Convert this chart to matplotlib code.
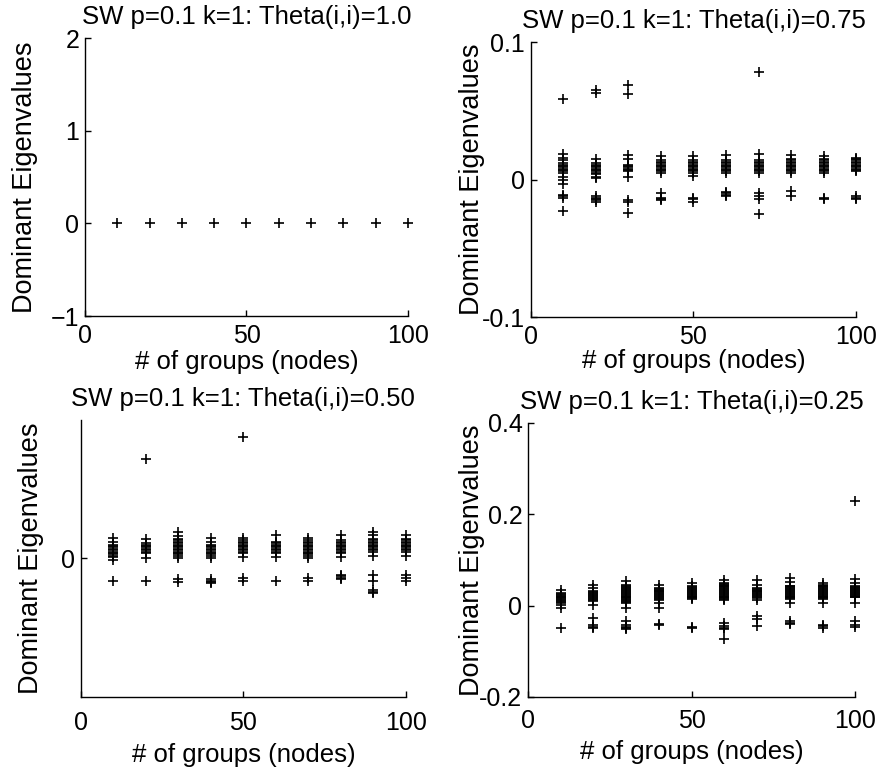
import numpy as np
import matplotlib.pyplot as plt

plt.rcParams['font.family'] = ['Liberation Sans', 'DejaVu Sans']
plt.rcParams['axes.unicode_minus'] = True

groups = [10, 20, 30, 40, 50, 60, 70, 80, 90, 100]

# Theta(i,i)=1.0 : every run gives a single eigenvalue at zero
eig_100 = [[0.0] for _ in groups]

# Theta(i,i)=0.75
eig_075 = [
    [0.059, 0.019, 0.016, 0.014, 0.012, 0.011, 0.010, 0.009, 0.008, 0.007, 0.006, 0.005, 0.002, 0.000, -0.003,
     -0.011, -0.012, -0.013, -0.023],
    [0.063, 0.065, 0.015, 0.012, 0.011, 0.010, 0.009, 0.008, 0.007, 0.006, 0.005, 0.004, 0.002, 0.001,
     -0.012, -0.013, -0.014, -0.015, -0.016],
    [0.062, 0.069, 0.018, 0.015, 0.011, 0.010, 0.009, 0.008, 0.007, 0.006, 0.002,
     -0.015, -0.016, -0.024],
    [0.017, 0.014, 0.013, 0.012, 0.011, 0.010, 0.009, 0.008, 0.007, 0.006, 0.005,
     -0.010, -0.013, -0.014, -0.015],
    [0.017, 0.014, 0.013, 0.012, 0.011, 0.010, 0.009, 0.008, 0.007, 0.006, 0.005, 0.003,
     -0.013, -0.014, -0.016],
    [0.018, 0.014, 0.013, 0.012, 0.011, 0.010, 0.009, 0.008, 0.007, 0.006, 0.005,
     -0.009, -0.010, -0.011, -0.012],
    [0.078, 0.019, 0.014, 0.013, 0.012, 0.011, 0.010, 0.009, 0.008, 0.007, 0.006, 0.005,
     -0.010, -0.012, -0.014, -0.025],
    [0.018, 0.015, 0.014, 0.013, 0.012, 0.011, 0.010, 0.009, 0.008, 0.007, 0.006, 0.005,
     -0.008, -0.012],
    [0.017, 0.015, 0.014, 0.013, 0.012, 0.011, 0.010, 0.009, 0.008, 0.007, 0.006, 0.005,
     -0.013, -0.014],
    [0.016, 0.015, 0.014, 0.013, 0.012, 0.011, 0.010, 0.009, 0.008, 0.007, 0.006,
     -0.012, -0.013, -0.014],
]

# Theta(i,i)=0.50
eig_050 = [
    [0.015, 0.012, 0.010, 0.009, 0.008, 0.007, 0.006, 0.005, 0.004, 0.003, 0.002, 0.001, -0.001, -0.016],
    [0.072, 0.014, 0.011, 0.010, 0.009, 0.008, 0.007, 0.006, 0.005, 0.004, 0.000, -0.016],
    [0.019, 0.016, 0.014, 0.013, 0.012, 0.011, 0.010, 0.009, 0.008, 0.007, 0.006, 0.005, 0.004, 0.003,
     0.002, 0.000, -0.015, -0.017],
    [0.015, 0.012, 0.010, 0.009, 0.008, 0.007, 0.006, 0.005, 0.004, 0.003, 0.002, 0.000,
     -0.015, -0.016, -0.017, -0.018],
    [0.088, 0.015, 0.013, 0.012, 0.011, 0.010, 0.009, 0.008, 0.007, 0.006, 0.005, 0.004, 0.001,
     -0.014, -0.016],
    [0.017, 0.012, 0.011, 0.010, 0.009, 0.008, 0.007, 0.006, 0.005, 0.004, 0.001, -0.016],
    [0.015, 0.013, 0.012, 0.011, 0.010, 0.009, 0.008, 0.007, 0.006, 0.005, 0.004, 0.003, 0.002, 0.000,
     -0.014, -0.016],
    [0.017, 0.013, 0.012, 0.011, 0.010, 0.009, 0.008, 0.007, 0.006, 0.005, 0.004, 0.001,
     -0.012, -0.013, -0.014, -0.015],
    [0.019, 0.017, 0.014, 0.013, 0.012, 0.011, 0.010, 0.009, 0.008, 0.007, 0.006, 0.005, 0.002,
     -0.012, -0.016, -0.023, -0.024, -0.025],
    [0.017, 0.014, 0.013, 0.012, 0.011, 0.010, 0.009, 0.008, 0.007, 0.006, 0.005, 0.002,
     -0.012, -0.014, -0.016],
]

# Theta(i,i)=0.25
eig_025 = [
    [0.035, 0.028, 0.026, 0.024, 0.022, 0.020, 0.018, 0.016, 0.014, 0.012, 0.010, 0.008, 0.006, 0.002,
     -0.005, -0.049],
    [0.046, 0.039, 0.031, 0.029, 0.027, 0.025, 0.023, 0.021, 0.019, 0.017, 0.015, 0.013, 0.011, 0.002,
     -0.027, -0.042, -0.046, -0.049],
    [0.053, 0.046, 0.042, 0.040, 0.038, 0.036, 0.034, 0.032, 0.030, 0.028, 0.026, 0.024, 0.022, 0.020,
     0.018, 0.016, 0.014, 0.012, 0.010, 0.008, 0.006, -0.005, -0.033, -0.043, -0.046, -0.049, -0.052],
    [0.046, 0.039, 0.037, 0.035, 0.033, 0.031, 0.029, 0.027, 0.025, 0.023, 0.021, 0.019, 0.017, 0.015,
     0.013, 0.006, -0.005, -0.041, -0.043],
    [0.050, 0.042, 0.040, 0.038, 0.036, 0.034, 0.032, 0.030, 0.028, 0.026, 0.024, 0.022, 0.020, 0.018,
     0.016, 0.014, -0.046, -0.048],
    [0.057, 0.050, 0.048, 0.046, 0.044, 0.042, 0.040, 0.038, 0.036, 0.034, 0.032, 0.030, 0.028, 0.026,
     0.024, 0.022, 0.020, 0.018, 0.016, 0.014, 0.012, -0.038, -0.044, -0.048, -0.052, -0.074],
    [0.057, 0.046, 0.039, 0.037, 0.035, 0.033, 0.031, 0.029, 0.027, 0.025, 0.023, 0.021, 0.019, 0.017,
     0.012, -0.022, -0.030, -0.045],
    [0.061, 0.051, 0.044, 0.042, 0.040, 0.038, 0.036, 0.034, 0.032, 0.030, 0.028, 0.026, 0.024, 0.022,
     0.020, 0.018, 0.016, 0.014, 0.006, -0.034, -0.037, -0.040],
    [0.050, 0.046, 0.044, 0.042, 0.040, 0.038, 0.036, 0.034, 0.032, 0.030, 0.028, 0.026, 0.024, 0.022,
     0.020, 0.018, 0.016, 0.014, 0.006, -0.042, -0.045, -0.048],
    [0.230, 0.058, 0.050, 0.042, 0.040, 0.038, 0.036, 0.034, 0.032, 0.030, 0.028, 0.026, 0.024, 0.022,
     0.020, 0.018, 0.006, -0.034, -0.042, -0.046],
]

titles = ['SW p=0.1 k=1: Theta(i,i)=1.0', 'SW p=0.1 k=1: Theta(i,i)=0.75',
          'SW p=0.1 k=1: Theta(i,i)=0.50', 'SW p=0.1 k=1: Theta(i,i)=0.25']
ylims = [(-1, 2), (-0.1, 0.1), (-0.1, 0.1), (-0.2, 0.4)]
yticks = [[-1, 0, 1, 2], [-0.1, 0, 0.1], [0], [-0.2, 0, 0.2, 0.4]]
yticklabels = [['\u22121', '0', '1', '2'], ['-0.1', '0', '0.1'], ['0'],
               ['-0.2', '0', '0.2', '0.4']]
all_eigs = [eig_100, eig_075, eig_050, eig_025]

# axes rectangles in figure fractions (left, bottom, width, height)
rects = [(0.0966, 0.5917, 0.367, 0.359),
         (0.603, 0.5904, 0.370, 0.355),
         (0.092, 0.0995, 0.369, 0.358),
         (0.600, 0.0995, 0.372, 0.354)]
xlabel_y = [-0.122, -0.118, -0.166, -0.157]
ylabel_x = [-0.186, -0.181, -0.154, -0.171]
xtick_pad = [6, 6, 10, 9]

fig = plt.figure(figsize=(8.8, 7.74), dpi=100)
for i in range(4):
    ax = fig.add_axes(rects[i])
    for g, vals in zip(groups, all_eigs[i]):
        ax.plot([g] * len(vals), vals, '+', color='k', ms=7.5, mew=1.2, clip_on=False)
    ax.set_xlim(0, 100)
    ax.set_ylim(*ylims[i])
    ax.set_xticks([0, 50, 100])
    ax.set_yticks(yticks[i])
    ax.set_yticklabels(yticklabels[i])
    ax.spines['top'].set_visible(False)
    ax.spines['right'].set_visible(False)
    ax.spines['left'].set_linewidth(1.0)
    ax.spines['bottom'].set_linewidth(1.0)
    ax.tick_params(direction='in', length=4, width=1.0, labelsize=18, pad=4)
    ax.tick_params(axis='x', pad=xtick_pad[i])
    ax.set_title(titles[i], fontsize=18.5, pad=10)
    ax.set_xlabel('# of groups (nodes)', fontsize=18.5)
    ax.set_ylabel('Dominant Eigenvalues', fontsize=19.5, va='center')
    ax.xaxis.set_label_coords(0.5, xlabel_y[i])
    ax.yaxis.set_label_coords(ylabel_x[i], 0.5)

fig.savefig('out.png', dpi=100, facecolor='white')
